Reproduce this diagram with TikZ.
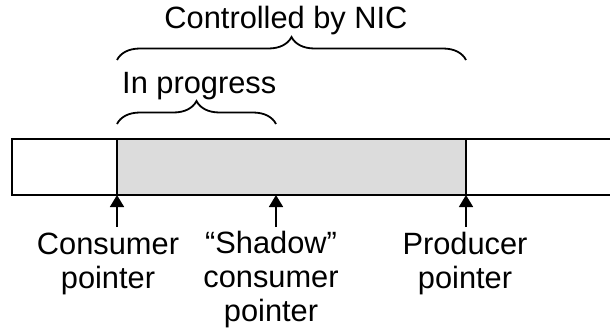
\documentclass[tikz,border=0pt]{standalone}
\usepackage{fontspec}
\setmainfont{Liberation Sans}
\usetikzlibrary{arrows.meta,decorations.pathreplacing}
\definecolor{bufgray}{HTML}{DCDCDC}
\tikzset{
  lbl/.style={font=\fontsize{30.8}{34}\selectfont, align=center, inner sep=0pt, anchor=base},
  brc/.style={decorate, decoration={brace, amplitude=23pt, aspect=0.5}, line width=1.8pt},
  ptr/.style={line width=1.6pt, -{Triangle[length=12pt,width=14pt]}},
  box/.style={line width=2pt},
  divider/.style={line width=1.3pt}
}
\begin{document}
\begin{tikzpicture}[x=1pt,y=-1pt]
\useasboundingbox (0,0) rectangle (610,332);
% buffer
\fill[bufgray] (117,139) rectangle (466,195);
\draw[box] (620,139) -- (12,139) -- (12,195) -- (620,195);
\coordinate (c) at (117,195);
\coordinate (s) at (276,195);
\coordinate (p) at (466,195);
\draw[divider] (117,139) -- (c);
\draw[divider] (466,139) -- (p);
% braces
\coordinate (b1l) at (117,60);
\coordinate (b1r) at (466,60);
\coordinate (b2l) at (117,124);
\coordinate (b2r) at (276,124);
\draw[brc] (b1l) -- (b1r);
\draw[brc] (b2l) -- (b2r);
\node[lbl] (nic) at (286,28) {Controlled by NIC};
\node[lbl, anchor=base west] (prog) at (122,93) {In progress};
% labels (base anchor = baseline of the last line)
\node[lbl] (cl) at (108,288) {Consumer\\pointer};
\node[lbl] (sl) at (271,321) {“Shadow”\\consumer\\pointer};
\node[lbl] (pl) at (465,288) {Producer\\pointer};
\coordinate (ct) at (117,227);
\coordinate (st) at (276,227);
\coordinate (pt) at (466,227);
\draw[ptr] (ct) -- (c);
\draw[ptr] (st) -- (s);
\draw[ptr] (pt) -- (p);
\end{tikzpicture}
\end{document}
